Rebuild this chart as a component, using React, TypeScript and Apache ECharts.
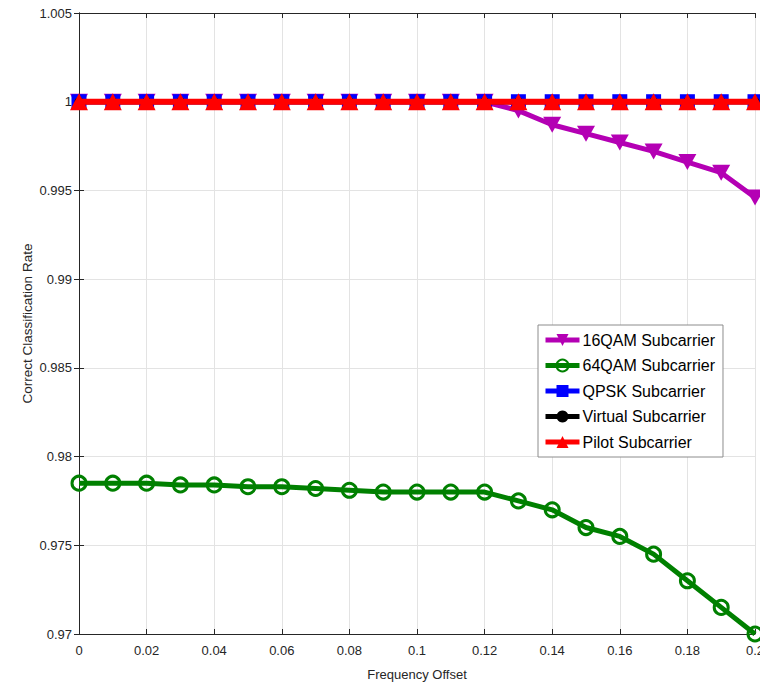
import React, { useEffect, useRef } from "react";
import * as echarts from "echarts";

const offsets = [0, 0.01, 0.02, 0.03, 0.04, 0.05, 0.06, 0.07, 0.08, 0.09, 0.1, 0.11, 0.12, 0.13, 0.14, 0.15, 0.16, 0.17, 0.18, 0.19, 0.2];
const qam16 = [1, 1, 1, 1, 1, 1, 1, 1, 1, 1, 1, 1, 1, 0.9995, 0.9987, 0.9982, 0.9977, 0.9972, 0.9966, 0.996, 0.9946];
const qam64 = [0.9785, 0.9785, 0.9785, 0.9784, 0.9784, 0.9783, 0.9783, 0.9782, 0.9781, 0.978, 0.978, 0.978, 0.978, 0.9775, 0.977, 0.976, 0.9755, 0.9745, 0.973, 0.9715, 0.97];
const qpsk = [1, 1, 1, 1, 1, 1, 1, 1, 1, 1, 1, 1, 1, 1, 1, 1, 1, 1, 1, 1, 1];
const virtual = [1, 1, 1, 1, 1, 1, 1, 1, 1, 1, 1, 1, 1, 1, 1, 1, 1, 1, 1, 1, 1];
const pilot = [1, 1, 1, 1, 1, 1, 1, 1, 1, 1, 1, 1, 1, 1, 1, 1, 1, 1, 1, 1, 1];
const seriesNames = ["16QAM Subcarrier", "64QAM Subcarrier", "QPSK Subcarrier", "Virtual Subcarrier", "Pilot Subcarrier"];

const FONT = "'Liberation Sans', Arial, sans-serif";
const AXIS = "#262626";

const pairs = (ys: number[]) => offsets.map((x, i) => [x, ys[i]]);
const fmt = (v: number) => String(Math.round(v * 1000) / 1000);

export default function App() {
  const ref = useRef<HTMLDivElement>(null);
  useEffect(() => {
    const chart = echarts.init(ref.current!, null, { renderer: "svg" });
    const boxAxis = {
      axisLine: { show: true, lineStyle: { color: AXIS, width: 1 } },
      axisTick: { show: true, inside: true, length: 5, lineStyle: { color: AXIS } },
      axisLabel: { show: false },
      splitLine: { show: false },
    };
    chart.setOption({
      animation: false,
      backgroundColor: "#fff",
      textStyle: { fontFamily: FONT },
      grid: { left: 79, top: 13, right: 5, bottom: 51, containLabel: false, outerBoundsMode: "none" },
      xAxis: [
        {
          type: "value",
          min: 0,
          max: 0.2,
          interval: 0.02,
          name: "Frequency Offset",
          nameLocation: "middle",
          nameGap: 34,
          nameMoveOverlap: false,
          nameTextStyle: { fontFamily: FONT, fontSize: 13, color: AXIS },
          axisLine: { show: true, lineStyle: { color: AXIS, width: 1 } },
          axisTick: { show: true, inside: true, length: 5, lineStyle: { color: AXIS } },
          axisLabel: { show: true, margin: 10, fontFamily: FONT, fontSize: 13, color: AXIS, formatter: fmt },
          splitLine: { show: true, lineStyle: { color: "#e3e3e3", width: 1 } },
        },
        { type: "value", position: "top", min: 0, max: 0.2, interval: 0.02, ...boxAxis },
      ],
      yAxis: [
        {
          type: "value",
          min: 0.97,
          max: 1.005,
          interval: 0.005,
          name: "Correct Classification Rate",
          nameLocation: "middle",
          nameGap: 45,
          nameMoveOverlap: false,
          nameTextStyle: { fontFamily: FONT, fontSize: 13.5, color: AXIS },
          axisLine: { show: true, lineStyle: { color: AXIS, width: 1 } },
          axisTick: { show: true, inside: true, length: 5, lineStyle: { color: AXIS } },
          axisLabel: { show: true, margin: 7, fontFamily: FONT, fontSize: 13, color: AXIS, formatter: fmt },
          splitLine: { show: true, lineStyle: { color: "#e3e3e3", width: 1 } },
        },
        { type: "value", position: "right", min: 0.97, max: 1.005, interval: 0.005, ...boxAxis },
      ],
      legend: {
        orient: "vertical",
        left: 538,
        top: 325,
        padding: [6, 8, 6, 5],
        itemGap: 7.5,
        itemWidth: 34,
        itemHeight: 15,
        backgroundColor: "#fff",
        borderColor: "#8c8c8c",
        borderWidth: 1,
        borderRadius: 0,
        lineStyle: { width: 5 },
        textStyle: { fontFamily: FONT, fontSize: 16, color: "#000", lineHeight: 18, padding: [0, 0, 0, -2] },
        data: seriesNames,
      },
      series: [
        {
          name: seriesNames[0],
          type: "line",
          data: pairs(qam16),
          symbol: "triangle",
          symbolRotate: 180,
          symbolSize: [18, 16],
          lineStyle: { color: "#B400B4", width: 5 },
          itemStyle: { color: "#B400B4" },
          z: 2,
        },
        {
          name: seriesNames[1],
          type: "line",
          data: pairs(qam64),
          symbol: "circle",
          symbolSize: 14,
          lineStyle: { color: "#008000", width: 5 },
          itemStyle: { color: "rgba(255,255,255,0)", borderColor: "#008000", borderWidth: 3 },
          z: 3,
        },
        {
          name: seriesNames[2],
          type: "line",
          data: pairs(qpsk),
          symbol: "rect",
          symbolSize: 15,
          lineStyle: { color: "#0000FF", width: 5 },
          itemStyle: { color: "#0000FF" },
          z: 4,
        },
        {
          name: seriesNames[3],
          type: "line",
          data: pairs(virtual),
          symbol: "circle",
          symbolSize: 9,
          lineStyle: { color: "#000", width: 5 },
          itemStyle: { color: "#000" },
          z: 5,
        },
        {
          name: seriesNames[4],
          type: "line",
          data: pairs(pilot),
          symbol: "triangle",
          symbolSize: [18, 17],
          lineStyle: { color: "#FF0000", width: 6 },
          itemStyle: { color: "#FF0000" },
          z: 6,
        },
      ],
    });
    return () => chart.dispose();
  }, []);
  return <div ref={ref} style={{ position: "absolute", left: 0, top: 0, width: 760, height: 685 }} />;
}
